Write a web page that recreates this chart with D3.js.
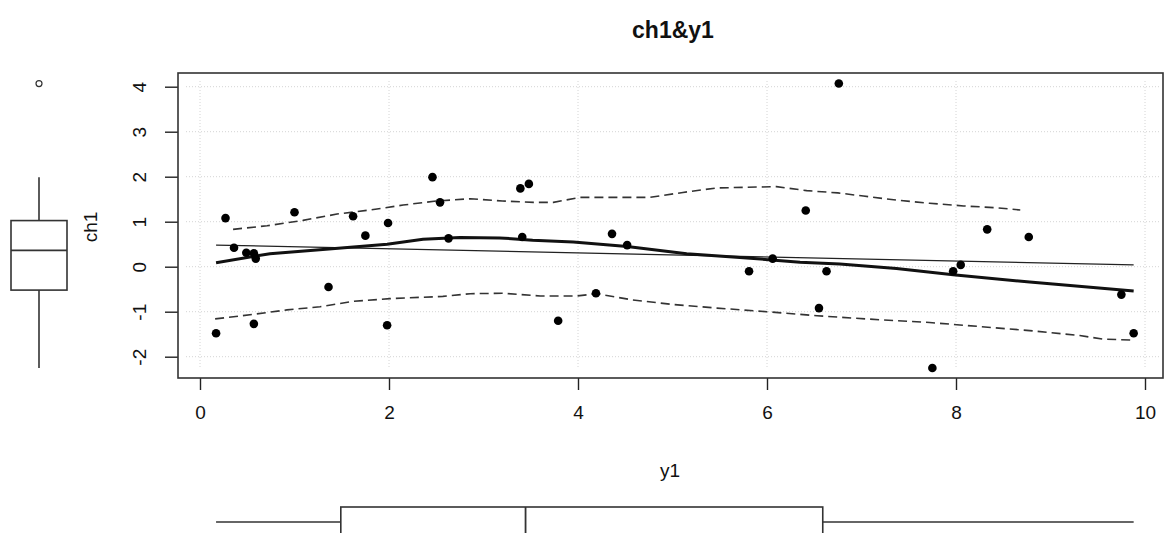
<!DOCTYPE html>
<html lang="en">
<head>
    <meta charset="UTF-8">
    <title>ch1&amp;y1</title>
    <style type="text/css">
        body { margin: 0; background: white; }
        text { font-family: "Liberation Sans", Arial, sans-serif; fill: #111; }
        .title { font-size: 23px; font-weight: bold; }
        .lab { font-size: 19px; }
        .grid { stroke: #d4d4d4; stroke-width: 1; stroke-dasharray: 1,2; }
        .frame { fill: none; stroke: #333; stroke-width: 1.6; }
        .box { fill: white; stroke: #333; stroke-width: 1.6; }
    </style>
</head>
<script src="https://d3js.org/d3.v7.min.js"></script>
<body>
<svg></svg>
<script>

// data
var y1  = [0.27, 1.00, 1.62, 1.75, 1.99, 2.46, 2.54, 2.63, 3.39, 3.48, 3.41, 4.36,
           6.41, 6.76, 8.33, 8.77, 0.36, 0.49, 0.57, 0.59, 1.36, 0.17, 0.57, 1.98,
           4.52, 3.79, 4.19, 5.81, 6.06, 6.63, 6.55, 7.97, 8.05, 9.75, 9.88, 7.75];
var ch1 = [1.08, 1.21, 1.12, 0.69, 0.97, 1.99, 1.43, 0.63, 1.74, 1.84, 0.66, 0.73,
           1.25, 4.07, 0.83, 0.66, 0.42, 0.31, 0.30, 0.18, -0.45, -1.48, -1.27, -1.30,
           0.48, -1.20, -0.59, -0.10, 0.18, -0.10, -0.92, -0.10, 0.04, -0.62, -1.48, -2.25];

var xTicks = [0, 2, 4, 6, 8, 10];
var yTicks = [-2, -1, 0, 1, 2, 3, 4];

// linear fit (thin line)
var lmX = [0.17, 9.88];
var lmY = [0.48, 0.04];

// smoother (thick line)
var smoothX = [0.17, 0.74, 1.30, 1.98, 2.36, 2.75, 3.17, 3.52, 3.95, 4.52, 5.15, 5.75, 6.35, 6.77, 7.37, 7.97, 8.78, 9.88];
var smoothY = [0.09, 0.29, 0.38, 0.50, 0.61, 0.65, 0.64, 0.59, 0.55, 0.45, 0.29, 0.20, 0.10, 0.06, -0.04, -0.18, -0.34, -0.54];

// spread (dashed lines)
var upperX = [0.35, 0.71, 1.09, 1.45, 1.80, 2.15, 2.50, 2.86, 3.20, 3.53, 3.74, 4.02, 4.76, 5.11, 5.47, 6.10, 6.42, 6.75, 7.02, 7.37, 7.72, 8.08, 8.43, 8.68];
var upperY = [0.83, 0.91, 1.03, 1.17, 1.26, 1.37, 1.46, 1.51, 1.46, 1.43, 1.43, 1.54, 1.54, 1.65, 1.75, 1.78, 1.69, 1.64, 1.57, 1.48, 1.41, 1.35, 1.31, 1.26];
var lowerX = [0.16, 0.56, 0.92, 1.27, 1.62, 2.01, 2.57, 2.86, 3.20, 3.60, 3.99, 4.20, 4.58, 5.01, 5.47, 6.00, 6.53, 6.75, 7.20, 7.72, 8.25, 8.78, 9.31, 9.56, 9.88];
var lowerY = [-1.16, -1.06, -0.96, -0.89, -0.77, -0.71, -0.66, -0.60, -0.59, -0.65, -0.65, -0.60, -0.74, -0.84, -0.92, -1.00, -1.09, -1.12, -1.18, -1.24, -1.33, -1.42, -1.53, -1.61, -1.63];

var svgWidth = 1165;
var svgHeight = 533;
var plot = {left: 178, right: 1163, top: 73, bottom: 378};

var xs = d3.scaleLinear().domain([0, 10]).range([200, 1145]);
var ys = d3.scaleLinear().domain([-2, 4]).range([356.7, 86.7]);

// plain hyphen for negatives, like R
var fmt = function(d) { return String(d); };

var svg = d3.select("svg")
    .attr("width", svgWidth)
    .attr("height", svgHeight);

// Tukey five number summary, like R boxplot
function fivenum(arr) {
    var s = arr.slice().sort(d3.ascending);
    var n = s.length;
    var n4 = Math.floor((n + 3) / 2) / 2;
    var idx = [1, n4, (n + 1) / 2, n + 1 - n4, n];
    return idx.map(function(d) {
        return 0.5 * (s[Math.floor(d) - 1] + s[Math.ceil(d) - 1]);
    });
}
function boxStats(arr) {
    var f = fivenum(arr);
    var iqr = f[3] - f[1];
    var inside = arr.filter(function(v) { return v >= f[1] - 1.5 * iqr && v <= f[3] + 1.5 * iqr; });
    return {
        lo: d3.min(inside), q1: f[1], med: f[2], q3: f[3], hi: d3.max(inside),
        out: arr.filter(function(v) { return v < f[1] - 1.5 * iqr || v > f[3] + 1.5 * iqr; })
    };
}

// grid
svg.append("g").selectAll("line.gy")
    .data(yTicks).enter().append("line")
    .attr("class", "grid")
    .attr("x1", plot.left + 8).attr("x2", plot.right - 3)
    .attr("y1", function(d) { return ys(d); })
    .attr("y2", function(d) { return ys(d); });
svg.append("g").selectAll("line.gx")
    .data(xTicks).enter().append("line")
    .attr("class", "grid")
    .attr("x1", function(d) { return xs(d); })
    .attr("x2", function(d) { return xs(d); })
    .attr("y1", plot.top + 8).attr("y2", plot.bottom - 10);

// axes
var xAxis = svg.append("g")
    .attr("transform", "translate(0," + plot.bottom + ")")
    .call(d3.axisBottom(xs).tickValues(xTicks).tickSize(12).tickPadding(16).tickFormat(fmt));
xAxis.select(".domain").remove();
xAxis.selectAll("line").attr("stroke", "#222").attr("stroke-width", 1.4);
xAxis.selectAll("text").attr("fill", "#111")
    .style("font-family", "'Liberation Sans', Arial, sans-serif")
    .style("font-size", "19px");

var yAxis = svg.append("g")
    .attr("transform", "translate(" + plot.left + ",0)")
    .call(d3.axisLeft(ys).tickValues(yTicks).tickSize(13).tickFormat(fmt));
yAxis.select(".domain").remove();
yAxis.selectAll("line").attr("stroke", "#222").attr("stroke-width", 1.4);
yAxis.selectAll("text")
    .attr("x", null)
    .attr("text-anchor", "middle")
    .attr("transform", "translate(-39,0) rotate(-90)")
    .attr("y", 0).attr("dy", "0.35em")
    .attr("fill", "#111")
    .style("font-family", "'Liberation Sans', Arial, sans-serif")
    .style("font-size", "19px");

// frame
svg.append("rect")
    .attr("class", "frame")
    .attr("x", plot.left).attr("y", plot.top)
    .attr("width", plot.right - plot.left)
    .attr("height", plot.bottom - plot.top);

// lines
function mkLine(xa, ya) {
    return d3.line()(xa.map(function(d, i) { return [xs(d), ys(ya[i])]; }));
}
svg.append("path").attr("d", mkLine(lmX, lmY))
    .attr("fill", "none").attr("stroke", "#222").attr("stroke-width", 1.3);
svg.append("path").attr("d", mkLine(smoothX, smoothY))
    .attr("fill", "none").attr("stroke", "#111").attr("stroke-width", 3);
svg.append("path").attr("d", mkLine(upperX, upperY))
    .attr("fill", "none").attr("stroke", "#333").attr("stroke-width", 1.6)
    .attr("stroke-dasharray", "9,5");
svg.append("path").attr("d", mkLine(lowerX, lowerY))
    .attr("fill", "none").attr("stroke", "#333").attr("stroke-width", 1.6)
    .attr("stroke-dasharray", "9,5");

// points
svg.append("g").selectAll("circle")
    .data(y1).enter().append("circle")
    .attr("cx", function(d) { return xs(d); })
    .attr("cy", function(d, i) { return ys(ch1[i]); })
    .attr("r", 4.3)
    .attr("fill", "#000");

// title and labels
svg.append("text").attr("class", "title")
    .attr("x", 673).attr("y", 38)
    .attr("text-anchor", "middle")
    .text("ch1&y1");

svg.append("text").attr("class", "lab")
    .attr("text-anchor", "middle")
    .attr("transform", "translate(97,227) rotate(-90)")
    .text("ch1");

svg.append("text").attr("class", "lab")
    .attr("x", 670).attr("y", 477)
    .attr("text-anchor", "middle")
    .text("y1");

// left boxplot of ch1
var bl = boxStats(ch1);
var cx = 39, halfW = 28;
var gl = svg.append("g");
gl.append("line").attr("x1", cx).attr("x2", cx)
    .attr("y1", ys(bl.q3)).attr("y2", ys(bl.hi))
    .attr("stroke", "#333").attr("stroke-width", 1.6);
gl.append("line").attr("x1", cx).attr("x2", cx)
    .attr("y1", ys(bl.q1)).attr("y2", ys(bl.lo))
    .attr("stroke", "#333").attr("stroke-width", 1.6);
gl.append("rect").attr("class", "box")
    .attr("x", cx - halfW).attr("width", 2 * halfW)
    .attr("y", ys(bl.q3)).attr("height", ys(bl.q1) - ys(bl.q3));
gl.append("line").attr("x1", cx - halfW).attr("x2", cx + halfW)
    .attr("y1", ys(bl.med)).attr("y2", ys(bl.med))
    .attr("stroke", "#333").attr("stroke-width", 1.8);
gl.selectAll("circle").data(bl.out).enter().append("circle")
    .attr("cx", cx).attr("cy", function(d) { return ys(d); })
    .attr("r", 3).attr("fill", "none").attr("stroke", "#333").attr("stroke-width", 1.2);

// bottom boxplot of y1
var bb = boxStats(y1);
var cy = 522, halfH = 15;
var gb = svg.append("g");
gb.append("line").attr("y1", cy).attr("y2", cy)
    .attr("x1", xs(bb.lo)).attr("x2", xs(bb.q1))
    .attr("stroke", "#333").attr("stroke-width", 1.6);
gb.append("line").attr("y1", cy).attr("y2", cy)
    .attr("x1", xs(bb.q3)).attr("x2", xs(bb.hi))
    .attr("stroke", "#333").attr("stroke-width", 1.6);
gb.append("rect").attr("class", "box")
    .attr("x", xs(bb.q1)).attr("width", xs(bb.q3) - xs(bb.q1))
    .attr("y", cy - halfH).attr("height", 2 * halfH);
gb.append("line").attr("y1", cy - halfH).attr("y2", cy + halfH)
    .attr("x1", xs(bb.med)).attr("x2", xs(bb.med))
    .attr("stroke", "#333").attr("stroke-width", 1.8);

</script>
</body>
</html>
